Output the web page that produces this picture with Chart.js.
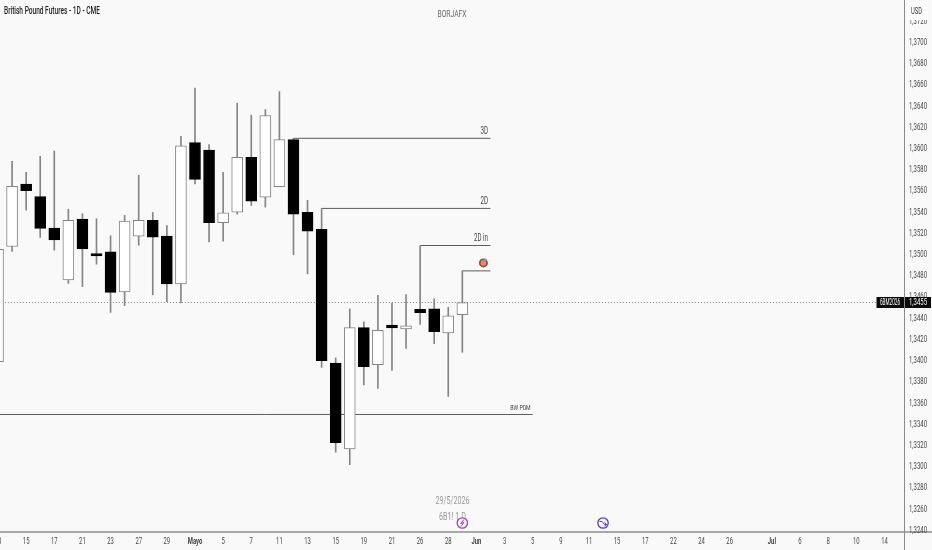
<!DOCTYPE html>
<html>
<head>
<meta charset="utf-8">
<title>British Pound Futures - 1D - CME</title>
<script src="https://cdn.jsdelivr.net/npm/chart.js@4"></script>
<style>
    html, body {margin:0; padding:0; background:#f9f9f9; overflow:hidden;}
    #wrap {width:932px; height:550px; position:relative;}
</style>
</head>
<body>
<div id="wrap"><canvas id="chart" width="932" height="550"></canvas></div>
<script>
// one entry per session, Apr 13 -> May 29 2026
const opens  = [1.33982,1.35068,1.35657,1.35538,1.35241,1.34753,1.35326,1.35002,1.35018,1.34640,1.35165,1.35314,1.35165,1.34716,1.36048,1.35978,1.35292,1.35392,1.35909,1.35534,1.35632,1.36076,1.35389,1.35229,1.33969,1.33160,1.34303,1.33953,1.34328,1.34291,1.34476,1.34479,1.34253,1.34426];
const highs  = [1.35100,1.35871,1.35767,1.35918,1.35968,1.35420,1.35377,1.35330,1.35169,1.35361,1.35739,1.35389,1.35266,1.36107,1.36561,1.36029,1.35767,1.36419,1.36306,1.36359,1.36529,1.36088,1.35503,1.35427,1.34017,1.34479,1.34357,1.34608,1.34532,1.34615,1.35077,1.34574,1.34495,1.34838];
const lows   = [1.33900,1.35021,1.35411,1.35153,1.35033,1.34721,1.34690,1.34901,1.34447,1.34511,1.35080,1.34612,1.34548,1.34536,1.35657,1.35112,1.35118,1.35373,1.35455,1.35439,1.35632,1.34990,1.34810,1.33928,1.33129,1.33011,1.33762,1.33729,1.33899,1.34107,1.34334,1.34152,1.33654,1.34070];
const closes = [1.35040,1.35635,1.35594,1.35238,1.35131,1.35314,1.35046,1.34980,1.34636,1.35307,1.35314,1.35156,1.34716,1.36016,1.35701,1.35292,1.35386,1.35909,1.35496,1.36303,1.36076,1.35373,1.35213,1.33991,1.33219,1.34303,1.33934,1.34277,1.34300,1.34319,1.34445,1.34265,1.34413,1.34539];

const priceTicks = [1.372,1.370,1.368,1.366,1.364,1.362,1.360,1.358,1.356,1.354,1.352,1.350,1.348,1.346,1.344,1.342,1.340,1.338,1.336,1.334,1.332,1.330,1.328,1.326,1.324];

const dateTicks  = [0,2,4,6,8,10,12,14,16,18,20,22,24,26,28,30,32,34,36,38,40,42,44,46,48,50,52,55,57,59,61,63];
const dateLabels = ["13","15","17","21","23","27","29","Mayo","5","7","11","13","15","19","21","26","28","Jun","3","5","9","11","15","17","22","24","26","Jul","6","8","10","14"];
const monthLabels = ["Mayo","Jun","Jul"];

// name, level, first session the line starts from
const levelNames  = ["3D","2D","2D in","","BW PDM"];
const levelPrices = [1.36088,1.35427,1.35077,1.34838,1.33484];
const levelStart  = [21,23,30,33,-1];
const levelEnd    = [35,35,35,35,38];

const lastPrice = 1.3454;
const lastLabel = "1,3455";
const contract  = "6BM2026";

const greyLine = "#858585";
const FONT = "Roboto, 'Liberation Sans'";

const sessions = opens.map((o, i) => i);
const isUp = opens.map((o, i) => closes[i] >= o);

const levelSets = levelPrices.map((p, i) => ({
    type: "line",
    data: [{x: levelStart[i], y: p}, {x: levelEnd[i], y: p}],
    borderColor: "#5c5c5c",
    borderWidth: 1,
    pointRadius: 0,
    order: 5
}));

// reference text is very narrow, no narrow font here so squeeze with maxWidth
function fit(ctx, text, x, y, font, width) {
    ctx.font = font;
    ctx.fillText(text, x, y + 1, width || ctx.measureText(text).width * 0.62);
}

const annotations = {
    id: "annotations",
    afterDraw(chart) {
        const {ctx, scales: {x, y}} = chart;
        ctx.save();
        ctx.textBaseline = "middle";

        // axis rule extensions down/right of the plot
        ctx.fillStyle = "#a8a8a8";
        ctx.fillRect(904, 531, 28, 2);
        ctx.fillStyle = "#8a8a8a";
        ctx.fillRect(904, 0, 1, 550);

        // tick labels
        ctx.fillStyle = "#444";
        ctx.textAlign = "left";
        y.ticks.forEach(t => fit(ctx, t.label, 909, y.getPixelForValue(t.value), "9.5px " + FONT, 18));
        ctx.textAlign = "center";
        x.ticks.forEach(t => {
            const month = monthLabels.includes(t.label);
            fit(ctx, t.label, x.getPixelForValue(t.value), 541, (month ? "bold " : "") + "9.5px " + FONT);
        });

        // level names
        ctx.textAlign = "right";
        levelNames.forEach((name, i) => {
            if (!name) return;
            const right = x.getPixelForValue(levelEnd[i]);
            const py = y.getPixelForValue(levelPrices[i]);
            if (name === "BW PDM") {
                fit(ctx, name, right - 2, py - 7, "8px " + FONT, 20.5);
            } else {
                fit(ctx, name, right - 2.5, py - 8, "10px " + FONT);
            }
        });

        // target icon above the last level
        const tx = x.getPixelForValue(34.5), ty = y.getPixelForValue(levelPrices[3]) - 8;
        ctx.beginPath(); ctx.arc(tx, ty, 4.5, 0, Math.PI * 2); ctx.fillStyle = "#a8432c"; ctx.fill();
        ctx.beginPath(); ctx.arc(tx, ty, 2.8, 0, Math.PI * 2); ctx.fillStyle = "#e8895f"; ctx.fill();
        ctx.beginPath(); ctx.arc(tx + 1.5, ty - 3, 1.5, 0, Math.PI * 2); ctx.fillStyle = "#4aa3d8"; ctx.fill();

        // last price tags
        const py = y.getPixelForValue(lastPrice);
        ctx.fillStyle = "#0b0b0b";
        ctx.fillRect(876.5, py - 5.5, 27.5, 11);
        ctx.fillRect(905, py - 5.5, 26, 11);
        ctx.fillStyle = "#fff";
        ctx.textAlign = "center";
        fit(ctx, contract, 890, py - 0.5, "9.5px " + FONT, 20);
        fit(ctx, lastLabel, 918, py - 0.5, "9.5px " + FONT, 18);

        // header
        ctx.fillStyle = "#fff";
        ctx.fillRect(907, 2, 21, 18);
        ctx.fillStyle = "#333";
        fit(ctx, "USD", 916.5, 10.5, "9.5px " + FONT, 11);
        ctx.textAlign = "left";
        ctx.fillStyle = "#222";
        fit(ctx, "British Pound Futures - 1D - CME", 4, 10.5, "500 10.5px " + FONT, 96);
        ctx.textAlign = "center";
        ctx.fillStyle = "#666";
        fit(ctx, "BORJAFX", 452, 13.5, "9.5px " + FONT, 29);
        ctx.fillStyle = "#999";
        fit(ctx, "29/5/2026", 452.5, 500.5, "10px " + FONT, 34);
        fit(ctx, "6B1! 1 D", 452.5, 516, "10px " + FONT, 27);

        // calendar events sitting on the time axis
        [[33, "#a33fb5"], [43, "#5a35d0"]].forEach(([i, col], n) => {
            const ex = x.getPixelForValue(i), ey = 523;
            ctx.beginPath(); ctx.arc(ex, ey, 5.2, 0, Math.PI * 2);
            ctx.fillStyle = "#f9f9f9"; ctx.fill();
            ctx.strokeStyle = col; ctx.lineWidth = 1.3; ctx.stroke();
            ctx.beginPath();
            if (n === 0) {
                ctx.moveTo(ex + 1.5, ey - 3.5); ctx.lineTo(ex - 1.5, ey + 0.5); ctx.lineTo(ex + 1.5, ey - 0.5); ctx.lineTo(ex - 1.5, ey + 3.5);
            } else {
                ctx.moveTo(ex - 3.5, ey - 1.5); ctx.lineTo(ex - 1, ey - 1.5); ctx.lineTo(ex + 1.5, ey + 1.5); ctx.lineTo(ex + 3.5, ey + 1.5);
                ctx.moveTo(ex + 1.5, ey - 0.5); ctx.lineTo(ex + 3.5, ey + 1.5); ctx.lineTo(ex + 1.5, ey + 3);
            }
            ctx.lineWidth = 1;
            ctx.stroke();
        });
        ctx.restore();
    }
};

new Chart(document.getElementById("chart"), {
    data: {
        datasets: [
            {
                type: "bar",
                data: sessions.map(i => ({x: i, y: [lows[i], highs[i]]})),
                backgroundColor: greyLine,
                borderWidth: 0,
                barThickness: 1,
                grouped: false,
                order: 3
            },
            {
                type: "bar",
                data: sessions.map(i => ({x: i, y: [opens[i], closes[i]]})),
                backgroundColor: isUp.map(u => u ? "#ffffff" : "#000000"),
                borderColor: isUp.map(u => u ? greyLine : "#000000"),
                borderWidth: 1,
                borderSkipped: false,
                barThickness: 11,
                grouped: false,
                order: 2
            },
            {
                type: "line",
                data: [{x: -1, y: lastPrice}, {x: 64.39, y: lastPrice}],
                borderColor: "#8a8a8a",
                borderWidth: 1,
                borderDash: [1, 2],
                pointRadius: 0,
                order: 4
            },
            ...levelSets
        ]
    },
    options: {
        responsive: false,
        animation: false,
        layout: {padding: 0},
        plugins: {legend: {display: false}, tooltip: {enabled: false}},
        scales: {
            x: {
                type: "linear",
                offset: false,
                min: 0.142,
                max: 64.39,
                grid: {display: false, drawTicks: false},
                border: {color: "#a8a8a8", width: 2},
                afterBuildTicks(axis) {
                    axis.ticks = dateTicks.map(v => ({value: v}));
                },
                afterFit(axis) {
                    axis.height = 18;
                },
                ticks: {
                    display: false,
                    autoSkip: false,
                    callback: (v) => dateLabels[dateTicks.indexOf(v)]
                }
            },
            y: {
                type: "linear",
                position: "right",
                min: 1.32376,
                max: 1.37392,
                grid: {display: false, drawTicks: false},
                border: {display: false},
                afterBuildTicks(axis) {
                    axis.ticks = priceTicks.map(v => ({value: v}));
                },
                afterFit(axis) {
                    axis.width = 28;
                },
                ticks: {
                    display: false,
                    autoSkip: false,
                    callback: (v) => v.toFixed(4).replace(".", ",")
                }
            }
        }
    },
    plugins: [annotations]
});
</script>
</body>
</html>
